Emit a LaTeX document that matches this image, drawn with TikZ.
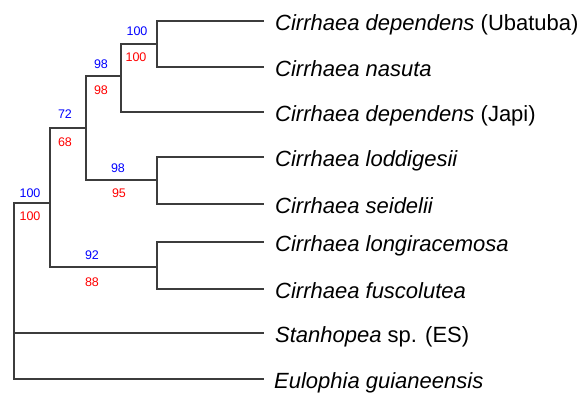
\documentclass[tikz,border=0pt]{standalone}
\usepackage{fontspec}
\setmainfont{Liberation Sans}
\definecolor{branch}{RGB}{60,60,60}
\definecolor{bsblue}{RGB}{0,0,255}
\definecolor{bsred}{RGB}{255,0,0}
\begin{document}
\begin{tikzpicture}[x=1pt,y=-1pt,
  br/.style={draw=branch,line width=1.9pt},
  taxon/.style={anchor=base west,inner sep=0pt,font=\fontsize{22}{24}\selectfont},
  bsup/.style={text=bsblue,inner sep=0pt,font=\fontsize{12.5}{14}\selectfont},
  bsdn/.style={text=bsred,inner sep=0pt,font=\fontsize{12.5}{14}\selectfont}]
\useasboundingbox (0,0) rectangle (587,392);
% leaf tips
\coordinate (t1) at (264,21);
\coordinate (t2) at (264,67);
\coordinate (t3) at (264,112);
\coordinate (t4) at (264,157);
\coordinate (t5) at (264,204);
\coordinate (t6) at (264,242);
\coordinate (t7) at (264,289);
\coordinate (t8) at (264,333);
\coordinate (t9) at (264,379);
% internal nodes
\coordinate (n12) at (157,44);
\coordinate (n123) at (121,76);
\coordinate (n45) at (157,180);
\coordinate (n15) at (86,128);
\coordinate (n67) at (157,267);
\coordinate (n17) at (50,203);
\coordinate (root) at (14,300);
% branches
\draw[br] (n12) |- (t1);
\draw[br] (n12) |- (t2);
\draw[br] (n123) |- (n12);
\draw[br] (n123) |- (t3);
\draw[br] (n45) |- (t4);
\draw[br] (n45) |- (t5);
\draw[br] (n15) |- (n123);
\draw[br] (n15) |- (n45);
\draw[br] (n67) |- (t6);
\draw[br] (n67) |- (t7);
\draw[br] (n17) |- (n15);
\draw[br] (n17) |- (n67);
\draw[br] (root) |- (n17);
\draw[br] (root) |- (t8);
\draw[br] (root) |- (t9);
% taxa
\node[taxon] (l1) at (275,30.5) {\textit{Cirrhaea dependens} (Ubatuba)};
\node[taxon] (l2) at (275,76.5) {\textit{Cirrhaea nasuta}};
\node[taxon] (l3) at (275,121.5) {\textit{Cirrhaea dependens} (Japi)};
\node[taxon] (l4) at (275,166.5) {\textit{Cirrhaea loddigesii}};
\node[taxon] (l5) at (275,213.5) {\textit{Cirrhaea seidelii}};
\node[taxon] (l6) at (275,251.5) {\textit{Cirrhaea longiracemosa}};
\node[taxon] (l7) at (275,298.5) {\textit{Cirrhaea fuscolutea}};
\node[taxon] (l8) at (275,342.5) {\textit{Stanhopea} sp. (ES)};
\node[taxon] (l9) at (274,388.5) {\textit{Eulophia guianeensis}};
% support values
\node[bsup] (b12) at (137,31) {100};
\node[bsdn] (r12) at (136,57) {100};
\node[bsup] (b123) at (101,64) {98};
\node[bsdn] (r123) at (101,90) {98};
\node[bsup] (b15) at (65,114) {72};
\node[bsdn] (r15) at (65,142) {68};
\node[bsup] (b45) at (118,168) {98};
\node[bsdn] (r45) at (119,193) {95};
\node[bsup] (b17) at (30,193) {100};
\node[bsdn] (r17) at (30,216) {100};
\node[bsup] (b67) at (92,255) {92};
\node[bsdn] (r67) at (92,282) {88};
\end{tikzpicture}
\end{document}
